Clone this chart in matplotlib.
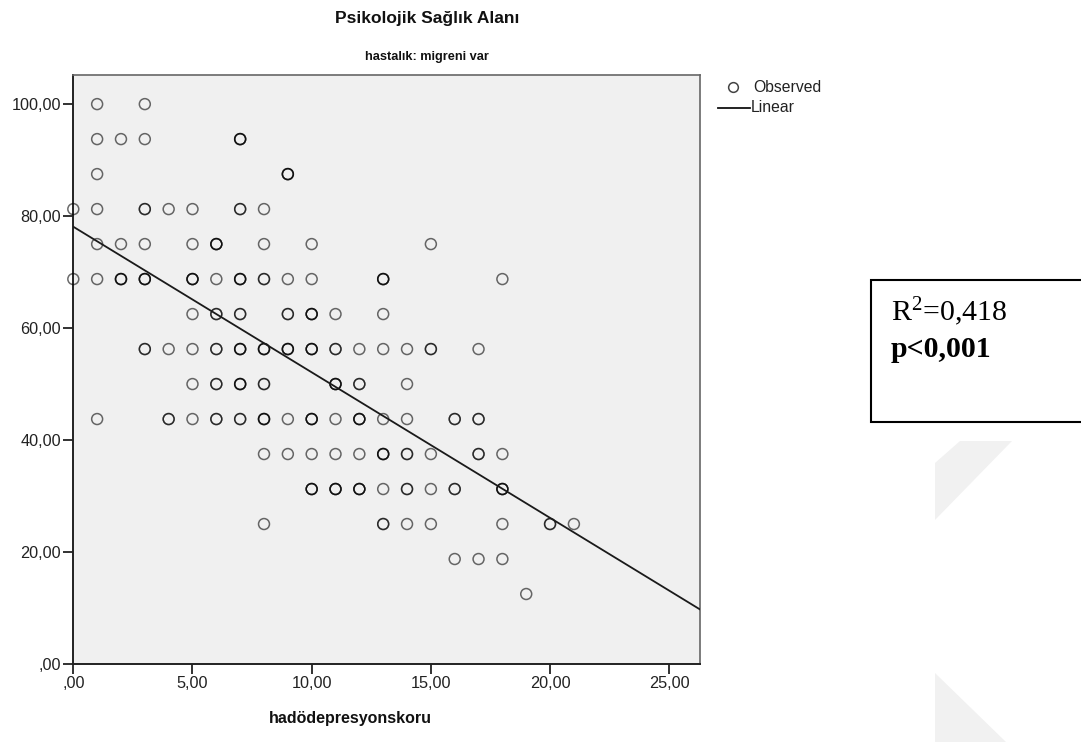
import numpy as np
import matplotlib
matplotlib.use("Agg")
import matplotlib.pyplot as plt
from matplotlib.lines import Line2D
from matplotlib.patches import Rectangle, Polygon

# ---- data ----
y_levels = [100.0, 93.75, 87.5, 81.25, 75.0, 68.75, 62.5, 56.25, 50.0,
            43.75, 37.5, 31.25, 25.0, 18.75, 12.5]
x_rows = [
    [1, 3],
    [1, 2, 3, 7],
    [1, 9],
    [0, 1, 3, 4, 5, 7, 8],
    [1, 2, 3, 5, 6, 8, 10, 15],
    [0, 1, 2, 3, 5, 6, 7, 8, 9, 10, 13, 18],
    [5, 6, 7, 9, 10, 11, 13],
    [3, 4, 5, 6, 7, 8, 9, 10, 11, 12, 13, 14, 15, 17],
    [5, 6, 7, 8, 11, 12, 14],
    [1, 4, 5, 6, 7, 8, 9, 10, 11, 12, 13, 14, 16, 17],
    [8, 9, 10, 11, 12, 13, 14, 15, 17, 18],
    [10, 11, 12, 13, 14, 15, 16, 18],
    [8, 13, 14, 15, 18, 20, 21],
    [16, 17, 18],
    [19],
]
# estimated number of overlapping observations (darker circles)
count_rows = [
    [1, 1],
    [1, 1, 1, 3],
    [1, 3],
    [1, 1, 2, 1, 1, 2, 1],
    [1, 1, 1, 1, 3, 1, 1, 1],
    [1, 1, 3, 3, 3, 1, 3, 2, 1, 1, 3, 1],
    [1, 2, 2, 2, 3, 1, 1],
    [2, 1, 1, 2, 3, 3, 3, 3, 2, 1, 1, 1, 2, 1],
    [1, 2, 3, 2, 3, 2, 1],
    [1, 2, 1, 2, 2, 3, 1, 3, 1, 3, 1, 1, 2, 2],
    [1, 1, 1, 1, 1, 3, 2, 1, 2, 1],
    [3, 3, 3, 1, 2, 1, 2, 3],
    [1, 2, 1, 1, 1, 2, 1],
    [1, 1, 1],
    [1],
]
fit_intercept = 78.1
fit_slope = -2.60
x_ticks = [0, 5, 10, 15, 20, 25]
x_tick_labels = [",00", "5,00", "10,00", "15,00", "20,00", "25,00"]
y_ticks = [0, 20, 40, 60, 80, 100]
y_tick_labels = [",00", "20,00", "40,00", "60,00", "80,00", "100,00"]
title = "Psikolojik Sağlık Alanı"
subtitle = "hastalık: migreni var"
x_label = "hadödepresyonskoru"
legend_labels = ["Observed", "Linear"]
stats_lines = ["R$^{2}$=0,418", "p<0,001"]

# ---- figure ----
plt.rcParams['font.family'] = ['Liberation Sans', 'DejaVu Sans']
plt.rcParams['mathtext.fontset'] = 'custom'
plt.rcParams['mathtext.rm'] = 'Liberation Serif'
plt.rcParams['mathtext.it'] = 'Liberation Serif:italic'
plt.rcParams['mathtext.bf'] = 'Liberation Serif:bold'

W, H = 1081, 742
fig = plt.figure(figsize=(W / 100, H / 100), dpi=100)
fig.patch.set_facecolor('white')

def fx(px):
    return px / W

def fy(py):
    return 1 - py / H

# faint watermark shapes
wm = '#f1f1f1'
fig.patches.append(Polygon([(fx(960), fy(441)), (fx(1012), fy(441)), (fx(935), fy(520)), (fx(935), fy(463))],
                           closed=True, transform=fig.transFigure, facecolor=wm, edgecolor='none', zorder=0))
fig.patches.append(Polygon([(fx(935), fy(673)), (fx(1006), fy(742)), (fx(935), fy(742))],
                           closed=True, transform=fig.transFigure, facecolor=wm, edgecolor='none', zorder=0))

ax = fig.add_axes([fx(73.3), fy(664), fx(700) - fx(73.3), fy(75) - fy(664)])
ax.set_facecolor('#f0f0f0')

xs, ys = [], []
for yv, xr, cr in zip(y_levels, x_rows, count_rows):
    for xv, c in zip(xr, cr):
        xs.extend([xv] * c)
        ys.extend([yv] * c)
ax.scatter(xs, ys, s=62, facecolors='none', edgecolors=(0, 0, 0, 0.58),
           linewidths=1.1, zorder=3, clip_on=False)

xmax = 26.29
line_x = np.array([0, xmax])
ax.plot(line_x, fit_intercept + fit_slope * line_x, color='#1a1a1a', lw=1.3, zorder=4)

ax.set_xlim(0, xmax)
ax.set_ylim(0, 105.2)
ax.set_xticks(x_ticks)
ax.set_xticklabels(x_tick_labels)
ax.set_yticks(y_ticks)
ax.set_yticklabels(y_tick_labels)
ax.tick_params(axis='both', direction='out', length=7, width=1.3, color='#222222',
               labelsize=11.7, labelcolor='#222222', pad=2)
for side in ['left', 'bottom']:
    ax.spines[side].set_color('#222222')
    ax.spines[side].set_linewidth(1.4)
for side in ['top', 'right']:
    ax.spines[side].set_color('#666666')
    ax.spines[side].set_linewidth(1.2)

# titles and axis label
fig.text(fx(427), fy(18), title, ha='center', va='center', fontsize=12.5, fontweight='bold', color='#111111')
fig.text(fx(427), fy(57), subtitle, ha='center', va='center', fontsize=9.2, fontweight='bold', color='#111111')
fig.text(fx(350), fy(718), x_label, ha='center', va='center', fontsize=11.5, fontweight='bold', color='#111111')

# legend (drawn manually)
fig.lines.append(Line2D([fx(733)], [fy(87)], marker='o', markersize=7, markerfacecolor='none',
                        markeredgecolor='#444444', markeredgewidth=1.1, linestyle='none',
                        transform=fig.transFigure))
fig.lines.append(Line2D([fx(718), fx(750)], [fy(108), fy(108)], color='#111111', lw=1.3,
                        transform=fig.transFigure))
fig.text(fx(753), fy(88), legend_labels[0], ha='left', va='center', fontsize=11.3, color='#222222')
fig.text(fx(751), fy(108), legend_labels[1], ha='left', va='center', fontsize=11.3, color='#222222')

# stats box
fig.patches.append(Rectangle((fx(871), fy(422)), fx(1100) - fx(871), fy(280) - fy(422),
                             transform=fig.transFigure, facecolor='white', edgecolor='black',
                             linewidth=1.5, zorder=1))
fig.text(fx(891), fy(321), stats_lines[0], ha='left', va='baseline', fontsize=21.5,
         family='Liberation Serif', color='black')
fig.text(fx(891), fy(357), stats_lines[1], ha='left', va='baseline',
         fontsize=21.5, family='Liberation Serif', fontweight='bold', color='black')

fig.savefig('out.png', dpi=100)
